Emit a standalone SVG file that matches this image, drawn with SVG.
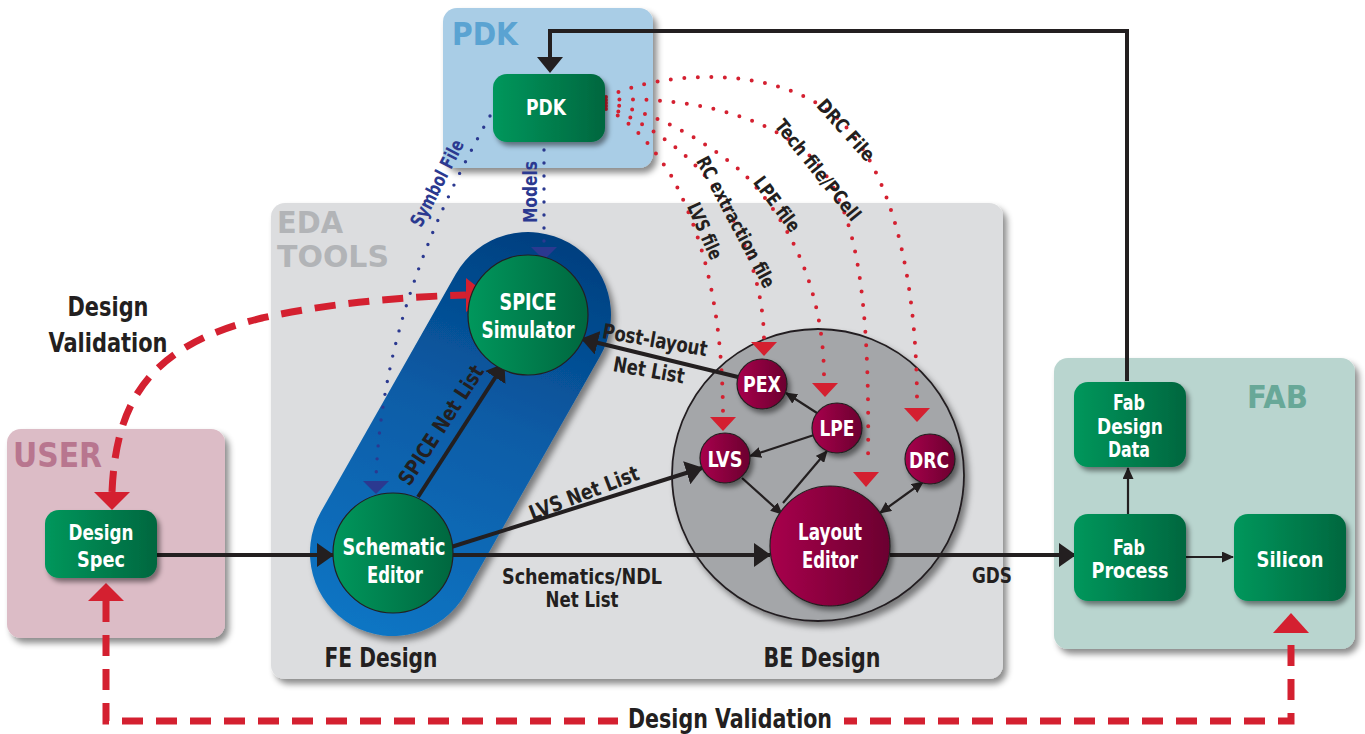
<svg xmlns="http://www.w3.org/2000/svg" width="1365" height="734" viewBox="0 0 1365 734">
<defs>
<style>
.t{font-family:"Liberation Sans Narrow","DejaVu Sans Condensed","Liberation Sans",sans-serif;font-weight:bold;}
.w{fill:#ffffff;text-anchor:middle;}
.k{fill:#231f20;text-anchor:middle;}
.bl{fill:#2b3990;text-anchor:middle;}
.red{fill:none;stroke:#d42030;stroke-width:4;stroke-dasharray:0 13.5;stroke-linecap:round;}
.blue{fill:none;stroke:#2b3990;stroke-width:3.4;stroke-dasharray:0 13;stroke-linecap:round;}
.dash{fill:none;stroke:#d42030;stroke-width:7;stroke-dasharray:21 13;}
.thick{fill:none;stroke:#231f20;stroke-width:4;}
.thin{fill:none;stroke:#231f20;stroke-width:2.2;}
</style>
<filter id="sh" x="-20%" y="-20%" width="150%" height="150%">
<feDropShadow dx="4" dy="5" stdDeviation="3" flood-color="#000" flood-opacity="0.45"/>
</filter>
<filter id="sh2" x="-20%" y="-20%" width="150%" height="150%">
<feDropShadow dx="3" dy="4" stdDeviation="2.5" flood-color="#000" flood-opacity="0.45"/>
</filter>
<linearGradient id="gg" x1="0" y1="0" x2="1" y2="0">
<stop offset="0" stop-color="#00975c"/><stop offset="1" stop-color="#00673f"/>
</linearGradient>
<linearGradient id="mg" x1="0" y1="0" x2="1" y2="0">
<stop offset="0" stop-color="#a8004c"/><stop offset="1" stop-color="#6b002f"/>
</linearGradient>
<linearGradient id="cap" gradientUnits="userSpaceOnUse" x1="380" y1="640" x2="540" y2="230">
<stop offset="0" stop-color="#0a75c4"/><stop offset="0.55" stop-color="#0a5ca6"/><stop offset="1" stop-color="#003f7f"/>
</linearGradient>
<marker id="ak" markerWidth="17" markerHeight="24" refX="16" refY="12" orient="auto" markerUnits="userSpaceOnUse">
<path d="M0,0 L17,12 L0,24 z" fill="#231f20"/>
</marker>
<marker id="as" markerWidth="12" markerHeight="11" refX="11" refY="5.5" orient="auto-start-reverse" markerUnits="userSpaceOnUse">
<path d="M0,0 L12,5.5 L0,11 z" fill="#231f20"/>
</marker>
</defs>
<rect width="1365" height="734" fill="#ffffff"/>

<!-- panels -->
<g id="pdk-panel">
<rect x="443" y="8" width="210" height="160" rx="14" fill="#a9cde6" filter="url(#sh)"/>
<text x="452" y="45" class="t" font-size="32" fill="#5aa3d2" textLength="66" lengthAdjust="spacingAndGlyphs">PDK</text>
</g>
<g id="eda-panel">
<rect x="271" y="203" width="732" height="476" rx="14" fill="#dcdddf" filter="url(#sh)"/>
<text x="277" y="233" class="t" font-size="31" fill="#b2b4b7" textLength="66" lengthAdjust="spacingAndGlyphs">EDA</text>
<text x="277" y="267" class="t" font-size="31" fill="#b2b4b7" textLength="112" lengthAdjust="spacingAndGlyphs">TOOLS</text>
<text x="381" y="667" class="t k" font-size="26" textLength="113" lengthAdjust="spacingAndGlyphs">FE Design</text>
<text x="822" y="667" class="t k" font-size="26" textLength="117" lengthAdjust="spacingAndGlyphs">BE Design</text>
</g>
<g id="user-panel">
<rect x="7" y="429" width="218" height="209" rx="14" fill="#dcbcc6" filter="url(#sh)"/>
<text x="13" y="467" class="t" font-size="33" fill="#b8768f" textLength="89" lengthAdjust="spacingAndGlyphs">USER</text>
</g>
<g id="fab-panel">
<rect x="1054" y="358" width="301" height="291" rx="14" fill="#b9d5cf" filter="url(#sh)"/>
<text x="1247" y="408" class="t" font-size="32" fill="#68a898" textLength="61" lengthAdjust="spacingAndGlyphs">FAB</text>
</g>

<!-- FE capsule and BE circle -->
<g id="fe-capsule">
<path d="M465.2,594 L600.2,356 A83,83 0 0 0 455.8,274 L320.8,512 A83,83 0 0 0 465.2,594 Z" fill="url(#cap)" filter="url(#sh)"/>
</g>
<g id="be-circle">
<circle cx="818" cy="475" r="146" fill="#a4a6a9" stroke="#231f20" stroke-width="1.8" filter="url(#sh)"/>
</g>

<!-- connectors -->
<g id="connectors">
<path class="red" d="M606,97 C665,70 770,66 830,112 C885,155 917,260 917,404"/>
<path class="red" d="M606,100 C680,96 765,112 812,158 C858,205 870,300 868,462"/>
<path class="red" d="M606,103 C655,112 705,140 742,172 C790,220 824,290 824,378"/>
<path class="red" d="M606,106 C640,120 680,146 706,177 C740,222 763,280 764,338"/>
<path class="red" d="M606,109 C630,120 652,145 672,177 C700,230 722,300 723,413"/>
<polygon points="710,417 736,417 723,431" fill="#d42030"/>
<polygon points="751,342 777,342 764,356" fill="#d42030"/>
<polygon points="812,383 838,383 825,397" fill="#d42030"/>
<polygon points="853,472 879,472 866,487" fill="#d42030"/>
<polygon points="904,408 930,408 917,422" fill="#d42030"/>
<path class="blue" d="M490,116 C440,205 382,330 376,478"/>
<polygon points="363,481 389,481 376,494" fill="#2b3990"/>
<path class="blue" d="M544,150 L544,245"/>
<polygon points="531,247 557,247 544,260" fill="#2b3990"/>
<path class="dash" d="M112,492 C116,400 150,345 262,318 C330,303 400,297 466,295"/>
<polygon points="466,278 488,295 466,312" fill="#d42030"/>
<polygon points="94,492 130,492 112,510" fill="#d42030"/>
<path class="dash" d="M106,601 L106,721 L1291,721 L1291,634"/>
<polygon points="88,601 124,601 106,583" fill="#d42030"/>
<polygon points="1273,633 1309,633 1291,613" fill="#d42030"/>
<line class="thick" x1="157" y1="555" x2="333" y2="555" marker-end="url(#ak)"/>
<line class="thick" x1="453" y1="555" x2="770" y2="555" marker-end="url(#ak)"/>
<line class="thick" x1="890" y1="555" x2="1075" y2="555" marker-end="url(#ak)"/>
<line class="thick" x1="448" y1="548" x2="702" y2="468" marker-end="url(#ak)"/>
<line class="thick" x1="418" y1="497" x2="504" y2="364" marker-end="url(#ak)"/>
<line class="thick" x1="738" y1="377" x2="582" y2="339" marker-end="url(#ak)"/>
<polyline class="thick" points="1127,381 1127,31 550,31 550,60" stroke-width="3.6"/>
<polygon points="537,57 563,57 550,73" fill="#231f20"/>
<line class="thin" x1="1186" y1="557" x2="1233" y2="557" marker-end="url(#as)"/>
<line class="thin" x1="1128" y1="514" x2="1128" y2="468" marker-end="url(#as)"/>
<line class="thin" x1="817" y1="413" x2="786" y2="393" marker-end="url(#as)"/>
<line class="thin" x1="814" y1="435" x2="750" y2="456" marker-end="url(#as)"/>
<line class="thin" x1="742" y1="478" x2="782" y2="514" marker-end="url(#as)"/>
<line class="thin" x1="783" y1="503" x2="827" y2="451" marker-end="url(#as)"/>
<line class="thin" x1="880" y1="513" x2="923" y2="482" marker-start="url(#as)" marker-end="url(#as)"/>
</g>

<!-- connector labels -->
<g id="labels">
<text class="t bl" font-size="19" transform="translate(437,183) rotate(-63)" dy="0.35em" textLength="95" lengthAdjust="spacingAndGlyphs">Symbol File</text>
<text class="t bl" font-size="19" transform="translate(530,192) rotate(-90)" dy="0.35em" textLength="62" lengthAdjust="spacingAndGlyphs">Models</text>
<text class="t k" font-size="19" transform="translate(846,130) rotate(48)" dy="0.35em" textLength="76" lengthAdjust="spacingAndGlyphs">DRC File</text>
<text class="t k" font-size="19" transform="translate(818,170) rotate(51)" dy="0.35em" textLength="124" lengthAdjust="spacingAndGlyphs">Tech file/PCell</text>
<text class="t k" font-size="19" transform="translate(777,204) rotate(53)" dy="0.35em" textLength="64" lengthAdjust="spacingAndGlyphs">LPE file</text>
<text class="t k" font-size="19" transform="translate(736,222) rotate(62)" dy="0.35em" textLength="146" lengthAdjust="spacingAndGlyphs">RC extraction file</text>
<text class="t k" font-size="19" transform="translate(705,231) rotate(66)" dy="0.35em" textLength="60" lengthAdjust="spacingAndGlyphs">LVS file</text>
<text class="t k" font-size="21" transform="translate(441,425) rotate(-57)" dy="0.35em" textLength="138" lengthAdjust="spacingAndGlyphs">SPICE Net List</text>
<text class="t k" font-size="21" transform="translate(584,493) rotate(-21)" dy="0.35em" textLength="116" lengthAdjust="spacingAndGlyphs">LVS Net List</text>
<text class="t k" font-size="21" transform="translate(655,340) rotate(10)" dy="0.35em" textLength="106" lengthAdjust="spacingAndGlyphs">Post-layout</text>
<text class="t k" font-size="21" transform="translate(649,370) rotate(10)" dy="0.35em" textLength="72" lengthAdjust="spacingAndGlyphs">Net List</text>
<text class="t k" font-size="21" x="582" y="584" textLength="160" lengthAdjust="spacingAndGlyphs">Schematics/NDL</text>
<text class="t k" font-size="21" x="582" y="607" textLength="73" lengthAdjust="spacingAndGlyphs">Net List</text>
<text class="t k" font-size="21" x="992" y="583" textLength="40" lengthAdjust="spacingAndGlyphs">GDS</text>
<text class="t k" font-size="26" x="108" y="316" textLength="81" lengthAdjust="spacingAndGlyphs">Design</text>
<text class="t k" font-size="26" x="108" y="352" textLength="119" lengthAdjust="spacingAndGlyphs">Validation</text>
<rect x="618" y="704" width="226" height="30" fill="#ffffff"/>
<text class="t k" font-size="26" x="730" y="728" textLength="204" lengthAdjust="spacingAndGlyphs">Design Validation</text>
</g>

<!-- nodes -->
<g id="node-pdk">
<rect x="493" y="74" width="112" height="68" rx="14" fill="url(#gg)" filter="url(#sh2)"/>
<text class="t w" font-size="22" x="546" y="115" textLength="40" lengthAdjust="spacingAndGlyphs">PDK</text>
</g>
<g id="node-design-spec">
<rect x="45" y="510" width="112" height="68" rx="14" fill="url(#gg)" filter="url(#sh2)"/>
<text class="t w" font-size="21" x="101" y="540" textLength="65" lengthAdjust="spacingAndGlyphs">Design</text>
<text class="t w" font-size="21" x="101" y="567" textLength="48" lengthAdjust="spacingAndGlyphs">Spec</text>
</g>
<g id="node-spice">
<circle cx="528" cy="315" r="60" fill="url(#gg)" stroke="#231f20" stroke-width="1.2"/>
<text class="t w" font-size="23" x="528" y="310" textLength="57" lengthAdjust="spacingAndGlyphs">SPICE</text>
<text class="t w" font-size="23" x="528" y="338" textLength="93" lengthAdjust="spacingAndGlyphs">Simulator</text>
</g>
<g id="node-schematic">
<circle cx="393" cy="553" r="60" fill="url(#gg)" stroke="#231f20" stroke-width="1.2"/>
<text class="t w" font-size="23" x="394" y="555" textLength="103" lengthAdjust="spacingAndGlyphs">Schematic</text>
<text class="t w" font-size="23" x="395" y="583" textLength="56" lengthAdjust="spacingAndGlyphs">Editor</text>
</g>
<g id="node-pex">
<circle cx="762" cy="384" r="25" fill="url(#mg)" stroke="#231f20" stroke-width="1.2" filter="url(#sh2)"/>
<text class="t w" font-size="22" x="762" y="392" textLength="38" lengthAdjust="spacingAndGlyphs">PEX</text>
</g>
<g id="node-lpe">
<circle cx="837" cy="428" r="25" fill="url(#mg)" stroke="#231f20" stroke-width="1.2" filter="url(#sh2)"/>
<text class="t w" font-size="22" x="837" y="436" textLength="35" lengthAdjust="spacingAndGlyphs">LPE</text>
</g>
<g id="node-lvs">
<circle cx="725" cy="458" r="25" fill="url(#mg)" stroke="#231f20" stroke-width="1.2" filter="url(#sh2)"/>
<text class="t w" font-size="22" x="725" y="467" textLength="35" lengthAdjust="spacingAndGlyphs">LVS</text>
</g>
<g id="node-drc">
<circle cx="930" cy="459" r="25" fill="url(#mg)" stroke="#231f20" stroke-width="1.2" filter="url(#sh2)"/>
<text class="t w" font-size="22" x="929" y="468" textLength="40" lengthAdjust="spacingAndGlyphs">DRC</text>
</g>
<g id="node-layout">
<circle cx="830" cy="546" r="60" fill="url(#mg)" stroke="#231f20" stroke-width="1.2" filter="url(#sh2)"/>
<text class="t w" font-size="23" x="830" y="540" textLength="64" lengthAdjust="spacingAndGlyphs">Layout</text>
<text class="t w" font-size="23" x="830" y="568" textLength="56" lengthAdjust="spacingAndGlyphs">Editor</text>
</g>
<g id="node-fab-design-data">
<rect x="1074" y="382" width="112" height="85" rx="14" fill="url(#gg)" filter="url(#sh2)"/>
<text class="t w" font-size="22" x="1129" y="410" textLength="32" lengthAdjust="spacingAndGlyphs">Fab</text>
<text class="t w" font-size="22" x="1130" y="434" textLength="66" lengthAdjust="spacingAndGlyphs">Design</text>
<text class="t w" font-size="22" x="1129" y="457" textLength="42" lengthAdjust="spacingAndGlyphs">Data</text>
</g>
<g id="node-fab-process">
<rect x="1074" y="514" width="112" height="87" rx="14" fill="url(#gg)" filter="url(#sh2)"/>
<text class="t w" font-size="22" x="1129" y="555" textLength="32" lengthAdjust="spacingAndGlyphs">Fab</text>
<text class="t w" font-size="22" x="1130" y="578" textLength="77" lengthAdjust="spacingAndGlyphs">Process</text>
</g>
<g id="node-silicon">
<rect x="1234" y="514" width="112" height="87" rx="14" fill="url(#gg)" filter="url(#sh2)"/>
<text class="t w" font-size="22" x="1290" y="567" textLength="67" lengthAdjust="spacingAndGlyphs">Silicon</text>
</g>
</svg>
